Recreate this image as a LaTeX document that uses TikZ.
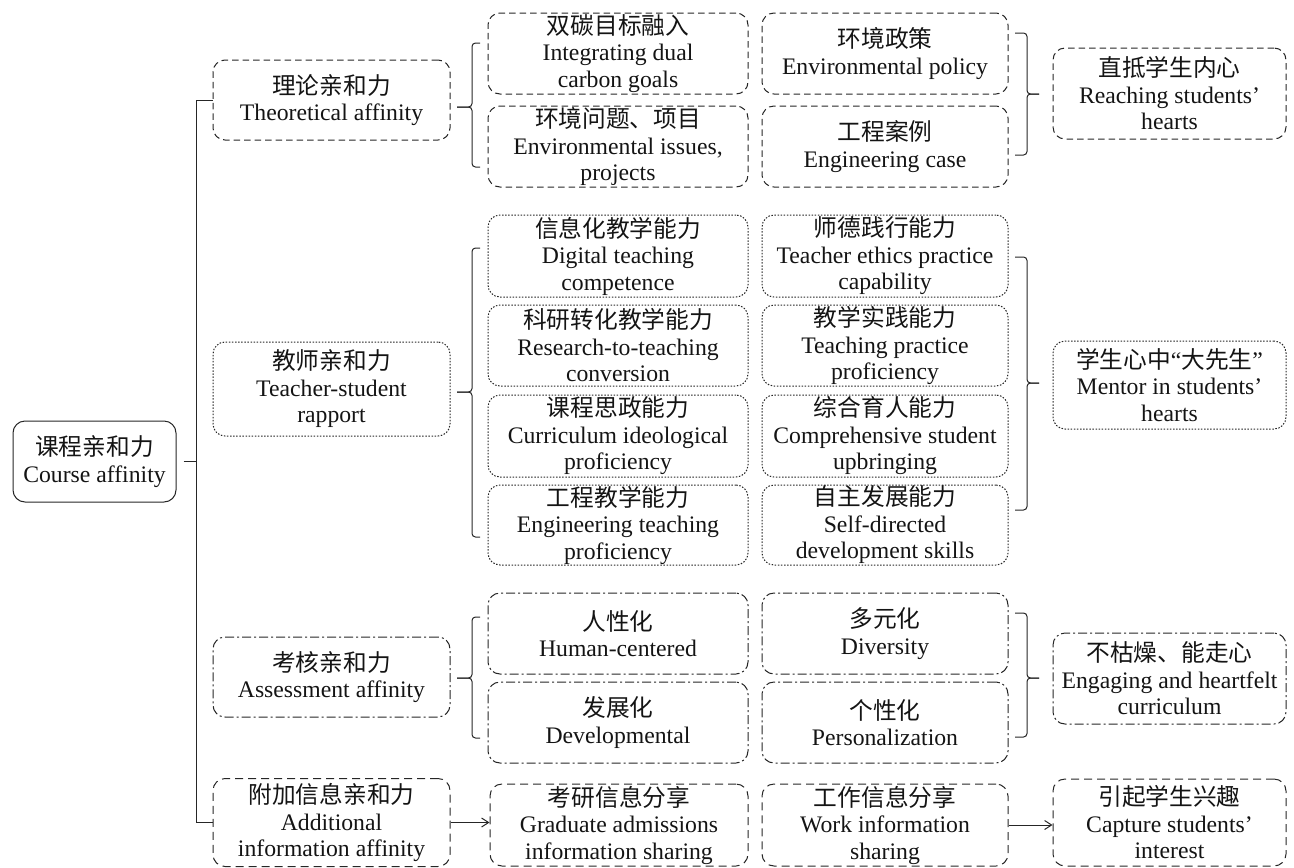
\documentclass[tikz,border=0pt]{standalone}
\usepackage{fontspec}
\setmainfont{Liberation Serif}
\newfontfamily\cjk{Noto Sans CJK SC}
\usetikzlibrary{arrows.meta}
\tikzset{
  base/.style={draw=black!85, line width=1pt, rounded corners=12pt, align=center, inner sep=0pt,
    text=black!92, font=\fontsize{23.7}{26.5}\selectfont},
  sz/.style 2 args={minimum width=#1, minimum height=#2},
  rootbox/.style={base, solid},
  bxdash/.style={base, dash pattern=on 6.5pt off 4pt},
  bxdot/.style={base, dash pattern=on 1.5pt off 1.6pt},
  bxdd/.style={base, dash pattern=on 9pt off 3pt on 2pt off 3pt},
  bxld/.style={base, dash pattern=on 8pt off 5pt},
  ln/.style={draw=black!85, line width=1pt},
  br/.style={ln, rounded corners=3.5pt},
  arr/.style={ln, -{Straight Barb[length=7pt,width=9pt]}},
}
% left brace: top, mid, bottom
\newcommand\myBrL[3]{%
  \draw[br] (480,#1) -- (472,#1) -- (472,#2) -- (457,#2);
  \draw[br] (457,#2) -- (472,#2) -- (472,#3) -- (480,#3);}
% right brace
\newcommand\myBrR[3]{%
  \draw[br] (1015,#1) -- (1027,#1) -- (1027,#2) -- (1039,#2);
  \draw[br] (1039,#2) -- (1027,#2) -- (1027,#3) -- (1015,#3);}
\begin{document}
\begin{tikzpicture}[x=1pt,y=-1pt]
\useasboundingbox (0,0) rectangle (1294,868);

% root
\node[rootbox, sz={163}{81}] (root) at (94.5,461.5) {{\cjk 课程亲和力}\\Course affinity};

% level 1
\node[bxdash, sz={237}{80}] (theo) at (331.5,100) {{\cjk 理论亲和力}\\Theoretical affinity};
\node[bxdot, sz={237}{94}] (teach) at (331.5,389) {{\cjk 教师亲和力}\\Teacher-student\\rapport};
\node[bxdd, sz={237}{80}] (assess) at (331.5,677) {{\cjk 考核亲和力}\\Assessment affinity};
\node[bxld, sz={237}{88}] (add) at (331.5,822.5) {{\cjk 附加信息亲和力}\\Additional\\information affinity};

% spine
\coordinate (sp) at (197,461.5);
\draw[ln] (theo.west) -- ++(-16,0) |- (add.west);
\draw[ln] ([xshift=7]root.east) -- (sp);

% theoretical section
\node[bxdash, sz={260}{81}] (t1) at (618,53.5) {{\cjk 双碳目标融入}\\Integrating dual\\carbon goals};
\node[bxdash, sz={260}{81}] (t2) at (618,146.5) {{\cjk 环境问题、项目}\\Environmental issues,\\projects};
\node[bxdash, sz={246}{81}] (t3) at (885,53.5) {{\cjk 环境政策}\\Environmental policy};
\node[bxdash, sz={246}{81}] (t4) at (885,146.5) {{\cjk 工程案例}\\Engineering case};
\node[bxdash, sz={233}{91}] (tr) at (1169.5,93.5) {{\cjk 直抵学生内心}\\Reaching students’\\hearts};
\myBrL{43}{107}{167}
\myBrR{33}{94}{155}

% teacher section
\node[bxdot, sz={260}{82}] (c1) at (618,256) {{\cjk 信息化教学能力}\\Digital teaching\\competence};
\node[bxdot, sz={260}{81}] (c2) at (618,345.5) {{\cjk 科研转化教学能力}\\Research-to-teaching\\conversion};
\node[bxdot, sz={260}{82}] (c3) at (618,436) {{\cjk 课程思政能力}\\Curriculum ideological\\proficiency};
\node[bxdot, sz={260}{80}] (c4) at (618,525) {{\cjk 工程教学能力}\\Engineering teaching\\proficiency};
\node[bxdot, sz={246}{82}] (d1) at (885,256) {{\cjk 师德践行能力}\\Teacher ethics practice\\capability};
\node[bxdot, sz={246}{81}] (d2) at (885,345.5) {{\cjk 教学实践能力}\\Teaching practice\\proficiency};
\node[bxdot, sz={246}{82}] (d3) at (885,436) {{\cjk 综合育人能力}\\Comprehensive student\\upbringing};
\node[bxdot, sz={246}{80}] (d4) at (885,525) {{\cjk 自主发展能力}\\Self-directed\\development skills};
\node[bxdot, sz={233}{88}] (cr) at (1169.5,385) {{\cjk 学生心中}“{\cjk 大先生}”\\Mentor in students’\\hearts};
\myBrL{248}{392}{537}
\myBrR{257}{383}{510}

% assessment section
\node[bxdd, sz={260}{81}] (a1) at (618,633.5) {{\cjk 人性化}\\Human-centered};
\node[bxdd, sz={260}{81}] (a2) at (618,722.5) {{\cjk 发展化}\\Developmental};
\node[bxdd, sz={246}{81}] (a3) at (885,633.5) {{\cjk 多元化}\\Diversity};
\node[bxdd, sz={246}{81}] (a4) at (885,722.5) {{\cjk 个性化}\\Personalization};
\node[bxdd, sz={233}{91}] (ar) at (1169.5,678.5) {{\cjk 不枯燥、能走心}\\Engaging and heartfelt\\curriculum};
\myBrL{617}{678}{738}
\myBrR{613}{678}{737}

% additional section
\node[bxld, sz={258}{82}] (grad) at (619,825) {{\cjk 考研信息分享}\\Graduate admissions\\information sharing};
\node[bxld, sz={246}{82}] (work) at (885,825) {{\cjk 工作信息分享}\\Work information\\sharing};
\node[bxld, sz={233}{87}] (cap) at (1169.5,822.5) {{\cjk 引起学生兴趣}\\Capture students’\\interest};
\draw[arr] (add.east) -- (add.east -| grad.west);
\draw[arr] (work.east) -- (work.east -| cap.west);
\end{tikzpicture}
\end{document}
